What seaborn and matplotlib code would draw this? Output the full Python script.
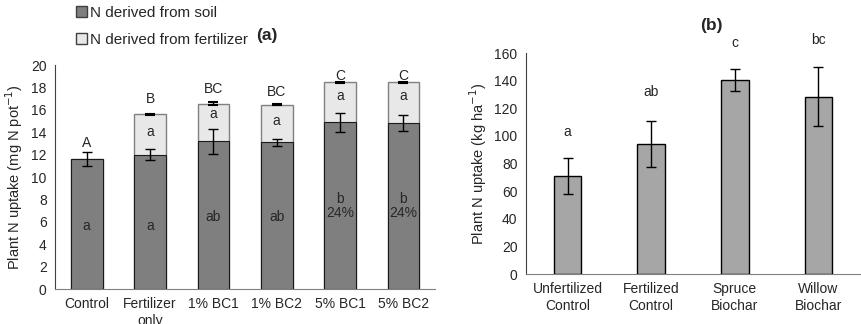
import matplotlib
matplotlib.use("Agg")
import matplotlib.pyplot as plt
import seaborn as sns
import pandas as pd
from matplotlib.patches import Patch

sns.set_style("white")
plt.rcParams['font.family'] = ['Liberation Sans', 'DejaVu Sans']
plt.rcParams['font.size'] = 10

# Panel (a) data
treatments_a = ["Control", "Fertilizer\nonly", "1% BC1", "1% BC2", "5% BC1", "5% BC2"]
soil_n = [11.6, 12.0, 13.2, 13.1, 14.9, 14.85]
soil_err = [0.6, 0.5, 1.1, 0.3, 0.85, 0.7]
total_n = [11.6, 15.6, 16.55, 16.45, 18.45, 18.45]
total_err = [0.0, 0.05, 0.15, 0.05, 0.06, 0.05]
top_letters = ["A", "B", "BC", "BC", "C", "C"]
top_letter_y = [13.0, 17.0, 17.9, 17.6, 19.0, 19.0]
soil_letters = ["a", "a", "ab", "ab", "b\n24%", "b\n24%"]
soil_letter_y = [5.6, 5.6, 6.45, 6.45, 7.4, 7.4]
fert_letters = ["", "a", "a", "a", "a", "a"]
fert_letter_y = [None, 14.0, 15.6, 15.0, 17.2, 17.2]

# Panel (b) data
treatments_b = ["Unfertilized\nControl", "Fertilized\nControl", "Spruce\nBiochar", "Willow\nBiochar"]
uptake_b = [71.2, 94.2, 140.6, 128.5]
err_b = [13.0, 16.7, 8.0, 21.5]
letters_b = ["a", "ab", "c", "bc"]
letter_y_b = [103, 132, 167, 169.6]

dark = "#7f7f7f"
light = "#e8e8e8"
mid = "#a6a6a6"
fs = 10

fig = plt.figure(figsize=(8.62, 3.24), dpi=100)
ax1 = fig.add_axes([0.0638, 0.108, 0.441, 0.691])
ax2 = fig.add_axes([0.610, 0.154, 0.388, 0.682])

df_a = pd.DataFrame({"treatment": treatments_a, "soil": soil_n, "total": total_n})
sns.barplot(data=df_a, x="treatment", y="total", color=light, width=0.5,
            edgecolor="#808080", linewidth=1.0, saturation=1, errorbar=None, ax=ax1)
sns.barplot(data=df_a, x="treatment", y="soil", color=dark, width=0.5,
            edgecolor="#1a1a1a", linewidth=0.8, saturation=1, errorbar=None, ax=ax1)
xs = list(range(len(treatments_a)))
ax1.errorbar(xs, soil_n, yerr=soil_err, fmt="none", ecolor="black", elinewidth=1, capsize=3.5, capthick=1)
ax1.errorbar(xs[1:], total_n[1:], yerr=total_err[1:], fmt="none", ecolor="black", elinewidth=1, capsize=3.5, capthick=1.5)
for x, t, y in zip(xs, top_letters, top_letter_y):
    ax1.text(x, y, t, ha="center", va="center", fontsize=fs)
for x, t, y in zip(xs, soil_letters, soil_letter_y):
    ax1.text(x, y, t, ha="center", va="center", fontsize=fs, linespacing=1.05)
for x, t, y in zip(xs, fert_letters, fert_letter_y):
    if t:
        ax1.text(x, y, t, ha="center", va="center", fontsize=fs)
ax1.set_ylim(0, 20)
ax1.set_xlim(-0.5, 5.5)
ax1.set_yticks(range(0, 21, 2))
ax1.set_xlabel("")
ax1.set_ylabel("Plant N uptake (mg N pot$^{-1}$)", fontsize=10.5)
ax1.tick_params(axis="y", direction="inout", length=6, width=1, color="#404040", pad=3, labelsize=fs)
ax1.tick_params(axis="x", length=0, pad=6, labelsize=fs)
for s in ["top", "right"]:
    ax1.spines[s].set_visible(False)
ax1.spines["left"].set_color("#404040")
ax1.spines["bottom"].set_color("#808080")
handles = [Patch(facecolor=dark, edgecolor="#404040", label="N derived from soil"),
           Patch(facecolor=light, edgecolor="#404040", label="N derived from fertilizer")]
fig.legend(handles=handles, loc="upper left", bbox_to_anchor=(0.072, 1.025), frameon=False,
           handlelength=0.7, handleheight=0.7, handletextpad=0.2, labelspacing=0.85, fontsize=11)
fig.text(0.31, 0.89, "(a)", ha="center", va="center", fontsize=12.5, fontweight="bold")

df_b = pd.DataFrame({"treatment": treatments_b, "uptake": uptake_b})
sns.barplot(data=df_b, x="treatment", y="uptake", color=mid, width=0.33,
            edgecolor="black", linewidth=1.0, saturation=1, errorbar=None, ax=ax2)
xb = list(range(len(treatments_b)))
ax2.errorbar(xb, uptake_b, yerr=err_b, fmt="none", ecolor="black", elinewidth=1, capsize=3.5, capthick=1)
for x, t, y in zip(xb, letters_b, letter_y_b):
    ax2.text(x, y, t, ha="center", va="center", fontsize=fs)
ax2.set_ylim(0, 160)
ax2.set_xlim(-0.5, 3.5)
ax2.set_yticks(range(0, 161, 20))
ax2.set_xlabel("")
ax2.set_ylabel("Plant N uptake (kg ha$^{-1}$)", fontsize=10.5)
ax2.tick_params(axis="y", direction="inout", length=6, width=1, color="#404040", pad=3, labelsize=fs)
ax2.tick_params(axis="x", length=0, pad=6, labelsize=fs)
for s in ["top", "right"]:
    ax2.spines[s].set_visible(False)
ax2.spines["left"].set_color("#404040")
ax2.spines["bottom"].set_color("#808080")
fig.text(0.825, 0.92, "(b)", ha="center", va="center", fontsize=12.5, fontweight="bold")

fig.savefig("out.png", dpi=100)
